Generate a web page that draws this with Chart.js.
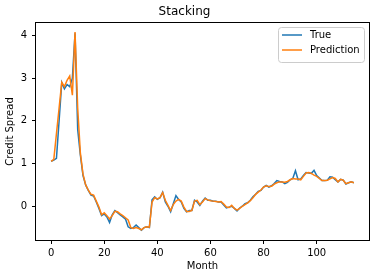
<!DOCTYPE html>
<html>
<head>
<meta charset="utf-8">
<script src="https://cdn.jsdelivr.net/npm/chart.js@4.4.1/dist/chart.umd.min.js"></script>
<style>
  html, body { margin: 0; padding: 0; background: #fff; }
  #wrap { width: 380px; height: 278px; }
</style>
</head>
<body>
<div id="wrap"><canvas id="myChart" width="380" height="278"></canvas></div>
<script>
// values
var trueValues = [
  1.05, 1.08, 1.12, 2.0, 2.9, 2.75, 2.85, 2.8, 3.0, 4.05,
  1.8, 1.2, 0.72, 0.5, 0.37, 0.26, 0.24, 0.1, -0.05, -0.22,
  -0.18, -0.25, -0.38, -0.2, -0.1, -0.15, -0.2, -0.25, -0.3, -0.48,
  -0.52, -0.5, -0.44, -0.5, -0.56, -0.5, -0.48, -0.5, 0.15, 0.22,
  0.16, 0.2, 0.33, 0.1, 0.0, -0.13, 0.06, 0.25, 0.16, 0.1,
  -0.05, -0.13, -0.1, -0.1, 0.14, 0.1, 0.02, 0.12, 0.19, 0.14,
  0.14, 0.12, 0.12, 0.1, 0.1, 0.03, -0.04, -0.02, 0.0, -0.05,
  -0.11, -0.04, 0.0, 0.06, 0.08, 0.14, 0.22, 0.28, 0.35, 0.37,
  0.45, 0.49, 0.45, 0.48, 0.53, 0.6, 0.58, 0.57, 0.53, 0.56,
  0.62, 0.65, 0.83, 0.62, 0.64, 0.72, 0.79, 0.78, 0.77, 0.84,
  0.72, 0.66, 0.6, 0.6, 0.61, 0.69, 0.68, 0.62, 0.57, 0.63,
  0.61, 0.52, 0.55, 0.57, 0.55
];
var predValues = [
  1.05, 1.1, 1.7, 2.3, 2.9, 2.8, 2.95, 3.05, 2.6, 4.08,
  2.3, 1.25, 0.75, 0.5, 0.38, 0.28, 0.26, 0.12, -0.02, -0.2,
  -0.15, -0.22, -0.3, -0.22, -0.12, -0.13, -0.18, -0.22, -0.27, -0.32,
  -0.5, -0.52, -0.5, -0.52, -0.55, -0.5, -0.48, -0.49, 0.1, 0.2,
  0.17, 0.2, 0.32, 0.14, 0.02, -0.1, 0.04, 0.12, 0.16, 0.12,
  -0.02, -0.12, -0.12, -0.1, 0.12, 0.14, 0.04, 0.1, 0.18, 0.15,
  0.13, 0.12, 0.11, 0.1, 0.11, 0.05, -0.02, -0.03, 0.02, -0.05,
  -0.09, -0.05, 0.0, 0.04, 0.08, 0.13, 0.2, 0.28, 0.33, 0.38,
  0.45, 0.48, 0.46, 0.47, 0.52, 0.55, 0.57, 0.57, 0.56, 0.58,
  0.62, 0.65, 0.64, 0.64, 0.62, 0.7, 0.78, 0.79, 0.77, 0.73,
  0.7, 0.65, 0.6, 0.6, 0.61, 0.64, 0.67, 0.65, 0.57, 0.63,
  0.61, 0.53, 0.55, 0.57, 0.55
];
var months = trueValues.map(function (v, i) { return i; });
var xTicks = [0, 20, 40, 60, 80, 100];
var yTicks = [0, 1, 2, 3, 4];
var seriesNames = ["True", "Prediction"];

function toPoints(values) {
  return values.map(function (v, i) { return { x: months[i], y: v }; });
}

Chart.defaults.font.family = "'DejaVu Sans', sans-serif";
Chart.defaults.font.size = 10;
Chart.defaults.color = "#000";

// matplotlib style frame + legend
var framePlugin = {
  id: 'frame',
  afterDatasetsDraw: function (chart) {
    var c = chart.ctx, a = chart.chartArea;
    c.save();
    c.strokeStyle = "#000";
    c.lineWidth = 1;
    c.strokeRect(Math.round(a.left) - 0.5, Math.round(a.top) - 0.5,
      Math.round(a.right - a.left) + 1, Math.round(a.bottom - a.top) + 1);

    // legend
    var bx = 278, by = 27, bw = 86, bh = 35;
    c.beginPath();
    c.roundRect(bx + 0.5, by + 0.5, bw, bh, 3);
    c.fillStyle = "rgba(255,255,255,0.8)";
    c.fill();
    c.strokeStyle = "#cccccc";
    c.stroke();
    c.font = "10px 'DejaVu Sans', sans-serif";
    c.textBaseline = "middle";
    chart.data.datasets.forEach(function (ds, i) {
      var y = by + 8 + i * 15;
      c.strokeStyle = ds.borderColor;
      c.lineWidth = 1.5;
      c.beginPath();
      c.moveTo(bx + 4, y);
      c.lineTo(bx + 24, y);
      c.stroke();
      c.fillStyle = "#000";
      c.fillText(ds.label, bx + 32, y + 0.5);
    });
    c.restore();
  }
};

var ctx = document.getElementById("myChart");
var myChart = new Chart(ctx, {
  type: 'line',
  data: {
    datasets: [{
      label: seriesNames[0],
      data: toPoints(trueValues),
      borderColor: "#1f77b4",
      borderWidth: 1.5,
      pointRadius: 0,
      order: 2
    }, {
      label: seriesNames[1],
      data: toPoints(predValues),
      borderColor: "#ff7f0e",
      borderWidth: 1.5,
      pointRadius: 0,
      order: 1
    }]
  },
  plugins: [framePlugin],
  options: {
    responsive: false,
    animation: false,
    devicePixelRatio: 1,
    layout: { padding: { left: 0, right: 11, top: 0, bottom: 0 } },
    plugins: {
      legend: { display: false },
      tooltip: { enabled: false },
      title: {
        display: true,
        text: "Stacking",
        color: "#000",
        font: { size: 12, weight: 'normal' },
        padding: { top: 5, bottom: 3.6 }
      }
    },
    scales: {
      x: {
        type: 'linear',
        min: -5.7,
        max: 119.7,
        afterBuildTicks: function (scale) {
          scale.ticks = xTicks.map(function (v) { return { value: v }; });
        },
        afterFit: function (scale) { scale.height = 38; },
        grid: { display: true, drawOnChartArea: false, drawTicks: true, tickLength: 4, color: "#000" },
        border: { display: false },
        ticks: { padding: 3, maxRotation: 0, color: "#000" },
        title: { display: true, text: "Month", color: "#000", padding: { top: 0, bottom: 6 } }
      },
      y: {
        min: -0.79,
        max: 4.29,
        afterBuildTicks: function (scale) {
          scale.ticks = yTicks.map(function (v) { return { value: v }; });
        },
        afterFit: function (scale) { scale.width = 36; },
        grid: { display: true, drawOnChartArea: false, drawTicks: true, tickLength: 4, color: "#000" },
        border: { display: false },
        ticks: { padding: 5, color: "#000" },
        title: { display: true, text: "Credit Spread", color: "#000", padding: { top: 4, bottom: 0 } }
      }
    }
  }
});
</script>
</body>
</html>
